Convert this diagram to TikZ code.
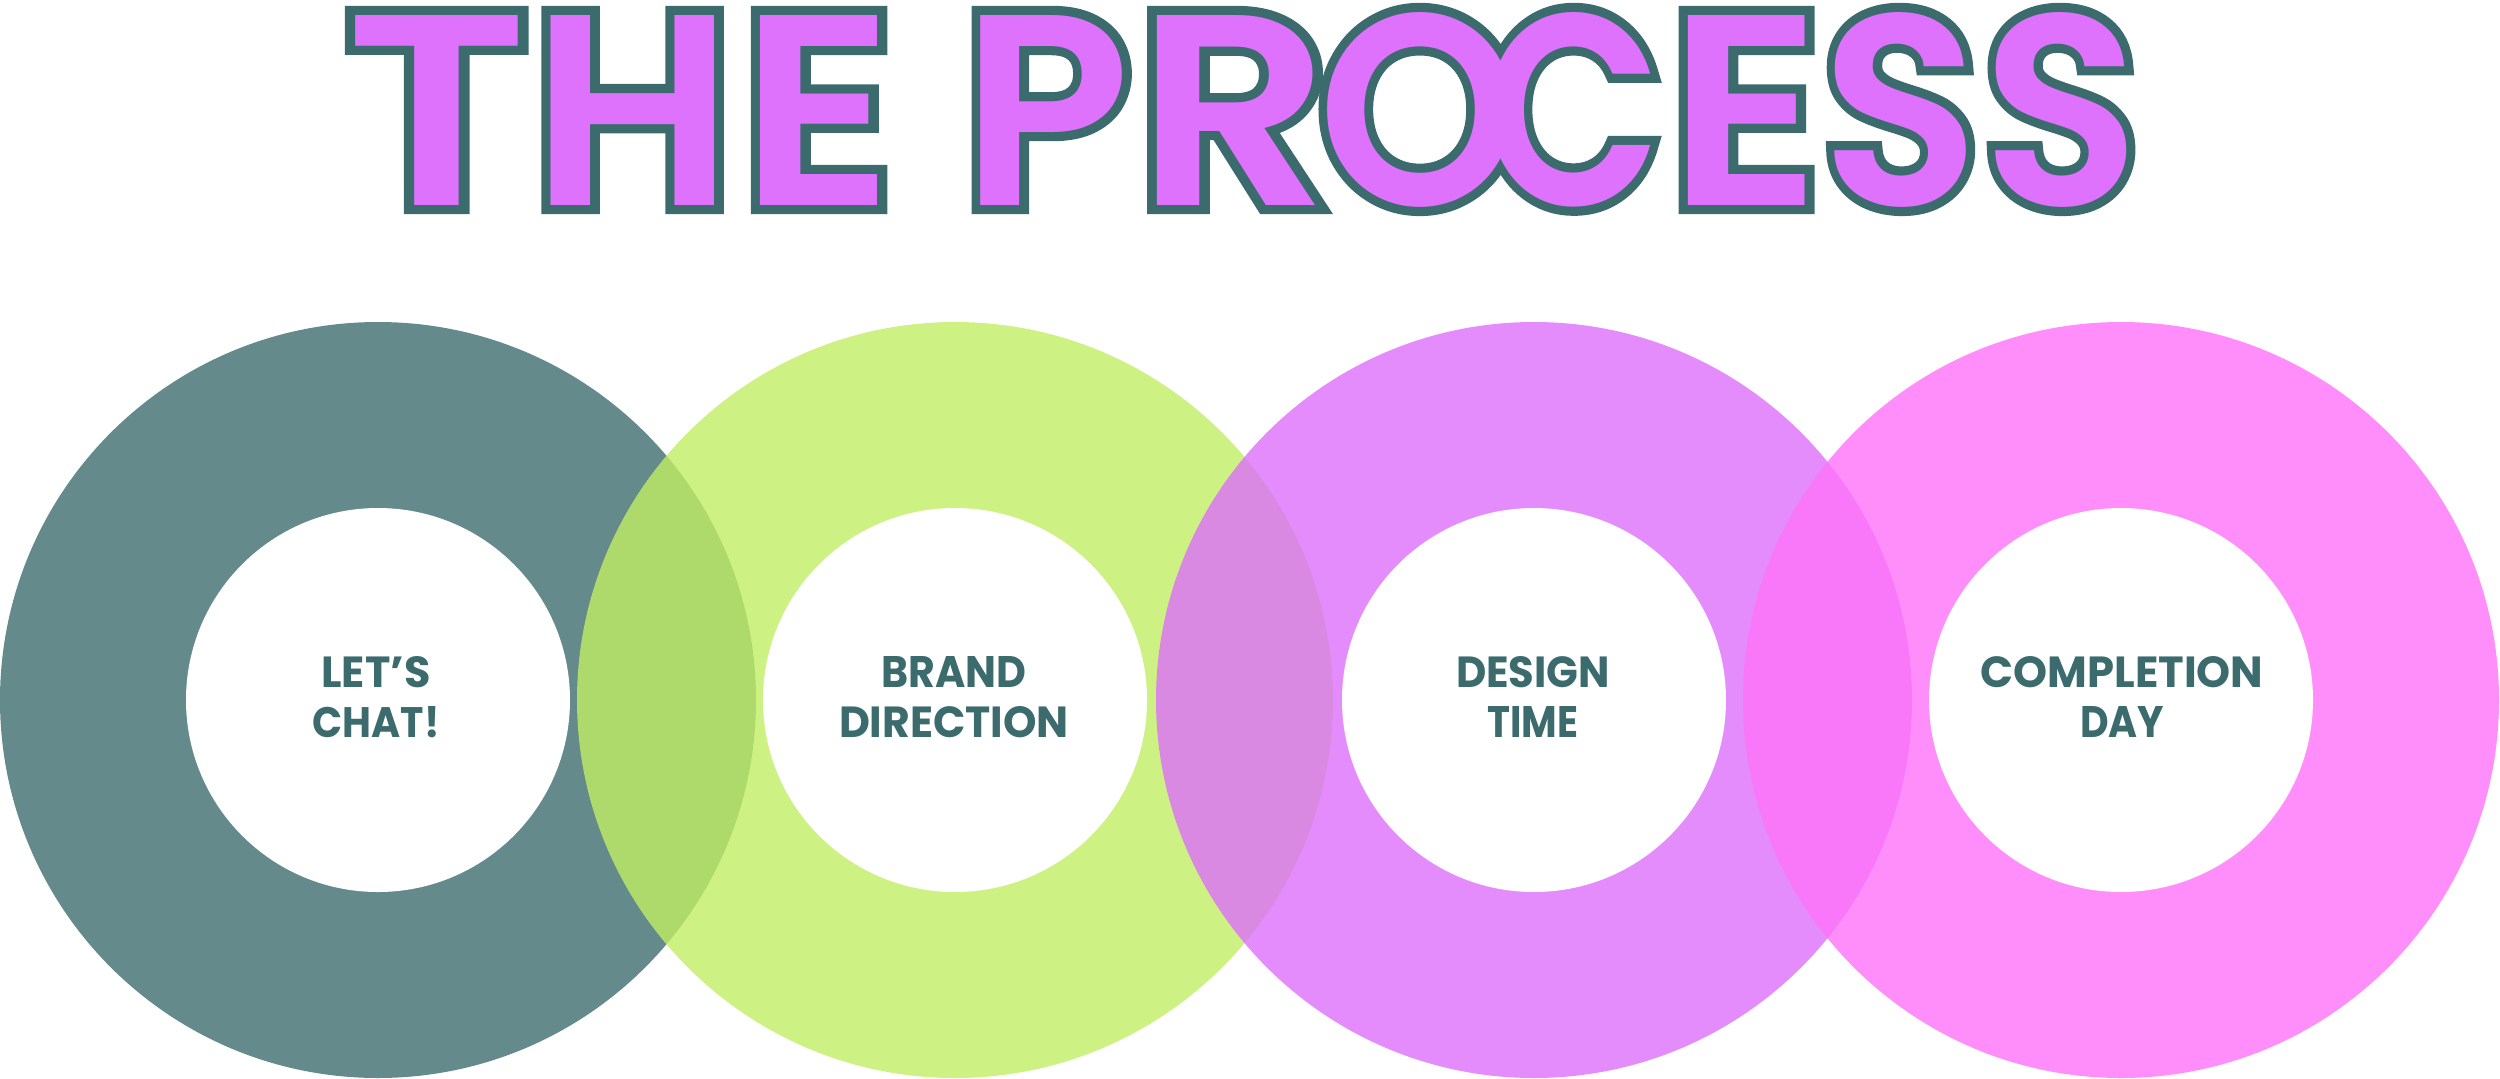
\documentclass[tikz,border=0pt]{standalone}
\usepackage{fontspec}
\usepackage{graphicx}
\usepackage{tikz}
\setmainfont{Poppins}
\newfontfamily\titlefont{Poppins SemiBold}
\newfontfamily\stepfont{Poppins}
\definecolor{tealtext}{HTML}{3C6B6D}
\definecolor{tealring}{HTML}{648A8B}
\definecolor{limering}{HTML}{C0EF64}
\definecolor{violetring}{HTML}{DE6FFB}
\definecolor{pinkring}{HTML}{FF72F9}
\definecolor{titlefill}{HTML}{DE72FC}

\newlength\pxu \setlength\pxu{0.1mm}
\newlength\lsb \newlength\rsb \newlength\inknat \newlength\natwd
% one title letter: centre, ink width, height (px), letter
\newcommand\ttlletter[4]{%
	\setbox0=\hbox{#4}%
	\setlength\natwd{\wd0}%
	\setlength\lsb{\XeTeXglyphbounds1 \XeTeXcharglyph`#4\relax}%
	\setlength\rsb{\XeTeXglyphbounds3 \XeTeXcharglyph`#4\relax}%
	\setlength\inknat{\dimexpr\natwd-\lsb-\rsb\relax}%
	\pgfmathsetmacro\sx{#2*\pxu/\inknat}%
	\pgfmathsetlengthmacro\boxwd{\sx*\natwd}%
	\pgfmathsetlengthmacro\shiftx{#1*\pxu-\sx*(\lsb+0.5*\inknat)}%
	\rlap{\kern\shiftx\resizebox{\boxwd}{#3\pxu}{#4}}}
\newcommand\titleletters{%
	\ttlletter{436}{162.5}{190}{T}\ttlletter{632}{163.5}{190}{H}\ttlletter{818.5}{117}{190}{E}%
	\ttlletter{1051}{141.6}{190}{P}\ttlletter{1235.5}{158}{190}{R}\ttlletter{1419}{185}{193}{O}%
	\ttlletter{1570}{160}{193}{C}\ttlletter{1746}{116.6}{190}{E}%
	\ttlletter{1900}{131.5}{193}{S}\ttlletter{2060.5}{131}{193}{S}%
	\kern2140\pxu}
\newcommand\stepline[2]{\resizebox{#1\pxu}{31\pxu}{#2}}

\begin{document}
\begin{tikzpicture}[x=0.1mm,y=-0.1mm,
	disc/.style={shape=circle,draw=none,inner sep=0pt,minimum size=75.6mm},
	hole/.style={shape=circle,draw=none,fill=white,inner sep=0pt,minimum size=38.4mm},
	titletext/.style={anchor=base west,inner sep=0pt,
		font=\titlefont\fontsize{76}{76}\selectfont},
	steptext/.style={inner sep=0pt,align=center,text=tealtext,
		font=\stepfont\bfseries\fontsize{12.6}{14.2}\selectfont}]
	\useasboundingbox (0,0) rectangle (2500,1078);

	% title: outline first, fill on top
	\node[titletext,text=tealtext] (titleline) at (0,205)
		{\special{pdf:literal direct 1 Tr 5.1 w}\titleletters\special{pdf:literal direct 0 Tr}};
	\node[titletext,text=titlefill] (title) at (0,205) {\titleletters};

	\node[disc,fill=tealring] (chat) at (378,700) {};
	\node[disc,fill=limering,fill opacity=0.8] (brand) at (955,700) {};
	\node[disc,fill=violetring,fill opacity=0.8] (design) at (1534,700) {};
	\node[disc,fill=pinkring,fill opacity=0.8] (done) at (2121,700) {};

	\node[hole] (chathole) at (chat) {};
	\node[hole] (brandhole) at (brand) {};
	\node[hole] (designhole) at (design) {};
	\node[hole] (donehole) at (done) {};

	\node[steptext] (chatlabel) at (376,697) {\stepline{109}{LET’S}\\\stepline{127}{CHAT!}};
	\node[steptext] (brandlabel) at (954,697) {\stepline{145}{BRAND}\\\stepline{230}{DIRECTION}};
	\node[steptext] (designlabel) at (1533,697) {\stepline{154}{DESIGN}\\\stepline{91}{TIME}};
	\node[steptext] (donelabel) at (2122,697) {\stepline{283}{COMPLETION}\\\stepline{84}{DAY}};
\end{tikzpicture}
\end{document}
